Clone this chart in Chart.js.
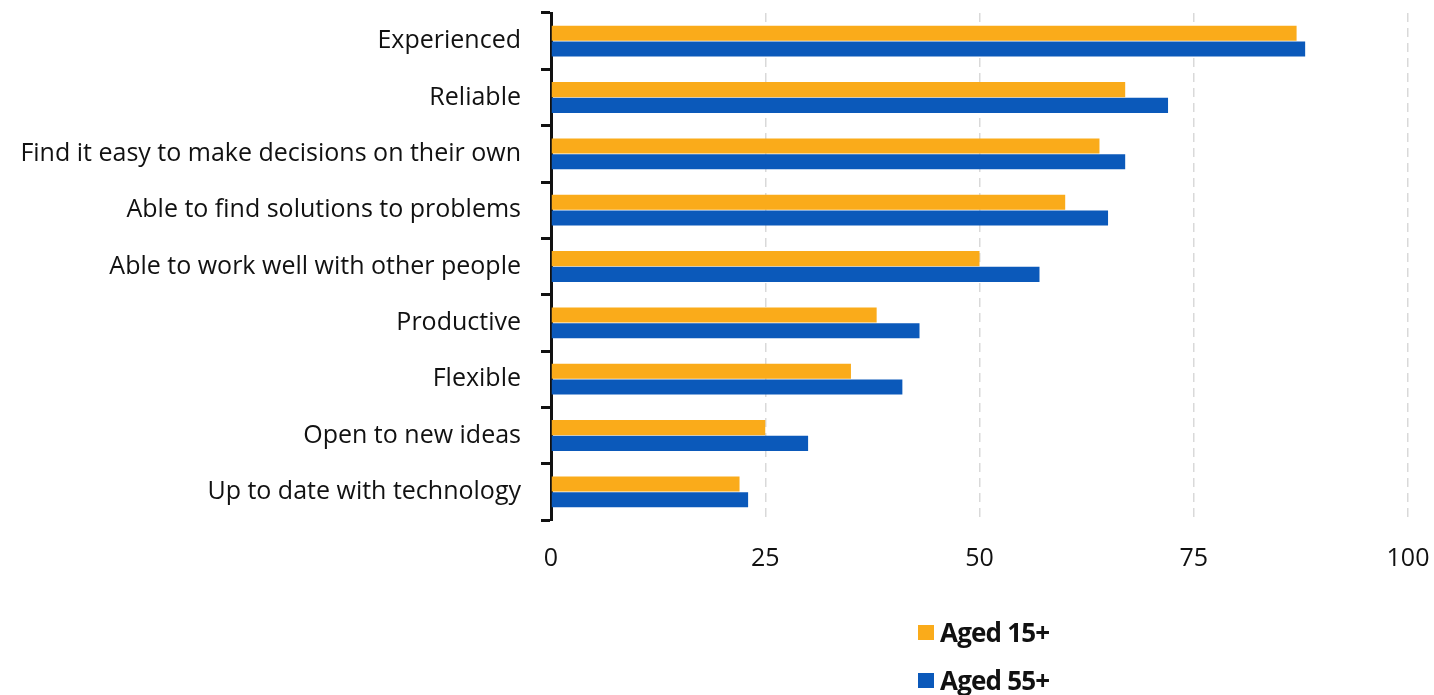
<!DOCTYPE html>
<html>
<head>
<meta charset="utf-8">
<script src="https://cdn.jsdelivr.net/npm/chart.js@4/dist/chart.umd.min.js"></script>
<style>
  html, body { margin: 0; padding: 0; background: #fff; }
  #wrap { position: relative; width: 1434px; height: 695px; }
  #legend {
    position: absolute; left: 918px; top: 608px;
    font-family: "Open Sans", sans-serif; font-weight: 700; font-size: 26px;
    color: #111; letter-spacing: -0.8px;
  }
  #legend .item { display: flex; align-items: center; height: 48px; }
  #legend .box { width: 16px; height: 15px; margin-right: 6px; }
</style>
</head>
<body>
<div id="wrap">
  <canvas id="chart" width="1434" height="695"></canvas>
  <div id="legend"></div>
</div>
<script>
const categories = [
  'Experienced',
  'Reliable',
  'Find it easy to make decisions on their own',
  'Able to find solutions to problems',
  'Able to work well with other people',
  'Productive',
  'Flexible',
  'Open to new ideas',
  'Up to date with technology',
];
const aged15 = [87, 67, 64, 60, 50, 38, 35, 25, 22];
const aged55 = [88, 72, 67, 65, 57, 43, 41, 30, 23];
const xTicks = [0, 25, 50, 75, 100];

const orange = '#FAAB1A';
const blue = '#0B59BA';

const ctx = document.getElementById('chart').getContext('2d');
const chart = new Chart(ctx, {
  type: 'bar',
  data: {
    labels: categories,
    datasets: [
      { label: 'Aged 15+', data: aged15, backgroundColor: orange },
      { label: 'Aged 55+', data: aged55, backgroundColor: blue },
    ],
  },
  options: {
    indexAxis: 'y',
    responsive: false,
    animation: false,
    categoryPercentage: 0.56,
    barPercentage: 0.96,
    layout: { padding: { top: 13, right: 26, bottom: 115, left: 0 } },
    plugins: { legend: { display: false }, tooltip: { enabled: false } },
    scales: {
      x: {
        min: 0,
        max: 100,
        afterBuildTicks: (scale) => {
          scale.ticks = xTicks.map((v) => ({ value: v }));
        },
        afterFit: (scale) => {
          scale.height = 60;
          // "100" may hang past the plot edge
          scale.paddingLeft = 0;
          scale.paddingRight = 0;
        },
        grid: {
          color: (c) => (c.tick && c.tick.value === 0 ? 'rgba(0,0,0,0)' : '#d9d9d9'),
          lineWidth: 1.5,
          drawTicks: false,
        },
        border: { display: false, dash: [9, 6] },
        ticks: {
          padding: 24,
          color: '#111',
          font: { family: 'Open Sans', size: 25 },
        },
      },
      y: {
        afterFit: (scale) => {
          scale.width = 551;
          // labels sit well inside the category bands, no extra room needed
          scale.paddingTop = 0;
          scale.paddingBottom = 0;
        },
        border: { display: true, color: '#111', width: 3 },
        grid: {
          offset: true,
          drawOnChartArea: false,
          drawTicks: true,
          tickLength: 10,
          tickWidth: 3,
          tickColor: '#111',
        },
        ticks: {
          padding: 20,
          color: '#111',
          font: { family: 'Open Sans', size: 25 },
        },
      },
    },
  },
});

// stacked legend under the axis
const legend = document.getElementById('legend');
chart.data.datasets.forEach((ds) => {
  const item = document.createElement('div');
  item.className = 'item';
  item.innerHTML = `<span class="box" style="background:${ds.backgroundColor}"></span><span>${ds.label}</span>`;
  legend.appendChild(item);
});
</script>
</body>
</html>
